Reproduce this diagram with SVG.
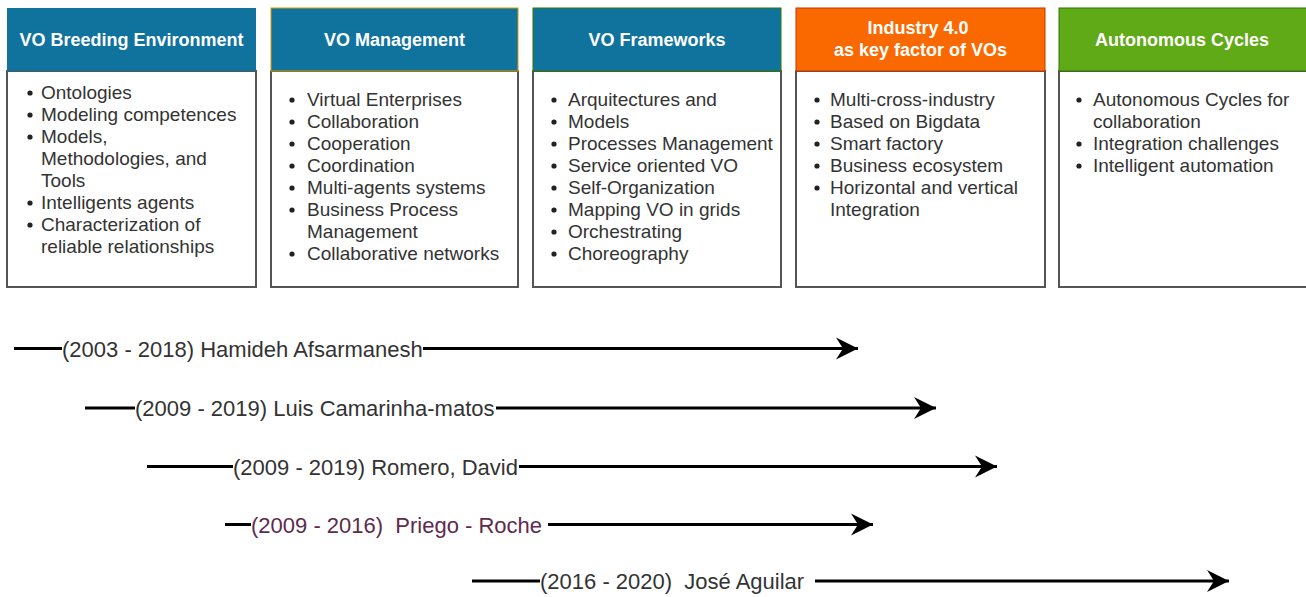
<svg xmlns="http://www.w3.org/2000/svg" width="1306" height="597" viewBox="0 0 1306 597">
  <style>
    .body { fill: #ffffff; stroke: #555555; stroke-width: 2; }
    .hd-blue { fill: #10739e; }
    .hd-orange { fill: #fa6800; stroke: #c73500; stroke-width: 1; }
    .hd-green { fill: #60a917; stroke: #2d7600; stroke-width: 1; }
    .title { font-family: "Liberation Sans", Arial, sans-serif; font-size: 18px; font-weight: bold; fill: #ffffff; text-anchor: middle; }
    .item { font-family: "Liberation Sans", Arial, sans-serif; font-size: 19px; fill: #333333; }
    .dot { fill: #222222; }
    .tl { stroke: #000000; stroke-width: 3; fill: none; }
    .arrow { stroke: #000000; stroke-width: 3; fill: none; marker-end: url(#head); }
    .who { font-family: "Liberation Sans", Arial, sans-serif; font-size: 22px; fill: #333333; }
    .who-alt { fill: #5e2a4e; }
  </style>
  <defs>
    <marker id="head" markerUnits="userSpaceOnUse" markerWidth="22" markerHeight="22" refX="22" refY="11" orient="auto" overflow="visible">
      <path d="M0,0 L22,11 L0,22 L7,11 Z" fill="#000000"/>
    </marker>
  </defs>
  <rect width="1306" height="597" fill="#ffffff"/>

  <!-- Topic boxes -->
  <g id="box-breeding">
    <rect class="body" x="7" y="71" width="249" height="216"/>
    <rect class="hd-blue" x="7" y="8" width="249" height="63"/>
    <text class="title" x="131.5" y="46">VO Breeding Environment</text>
    <g class="dot">
      <circle cx="30" cy="93" r="2.6"/><circle cx="30" cy="115" r="2.6"/><circle cx="30" cy="137" r="2.6"/>
      <circle cx="30" cy="203" r="2.6"/><circle cx="30" cy="225" r="2.6"/>
    </g>
    <text class="item">
      <tspan x="41" y="99">Ontologies</tspan>
      <tspan x="41" y="121">Modeling competences</tspan>
      <tspan x="41" y="143">Models,</tspan>
      <tspan x="41" y="165">Methodologies, and</tspan>
      <tspan x="41" y="187">Tools</tspan>
      <tspan x="41" y="209">Intelligents agents</tspan>
      <tspan x="41" y="231">Characterization of</tspan>
      <tspan x="41" y="253">reliable relationships</tspan>
    </text>
  </g>

  <g id="box-management">
    <rect class="body" x="271" y="71" width="247" height="216"/>
    <rect class="hd-blue" x="271" y="8" width="247" height="63" stroke="#d79b00" stroke-width="1"/>
    <text class="title" x="394.5" y="46">VO Management</text>
    <g class="dot">
      <circle cx="292" cy="100" r="2.6"/><circle cx="292" cy="122" r="2.6"/><circle cx="292" cy="144" r="2.6"/>
      <circle cx="292" cy="166" r="2.6"/><circle cx="292" cy="188" r="2.6"/><circle cx="292" cy="210" r="2.6"/>
      <circle cx="292" cy="254" r="2.6"/>
    </g>
    <text class="item">
      <tspan x="307" y="106">Virtual Enterprises</tspan>
      <tspan x="307" y="128">Collaboration</tspan>
      <tspan x="307" y="150">Cooperation</tspan>
      <tspan x="307" y="172">Coordination</tspan>
      <tspan x="307" y="194">Multi-agents systems</tspan>
      <tspan x="307" y="216">Business Process</tspan>
      <tspan x="307" y="238">Management</tspan>
      <tspan x="307" y="260">Collaborative networks</tspan>
    </text>
  </g>

  <g id="box-frameworks">
    <rect class="body" x="533" y="71" width="248" height="216"/>
    <rect class="hd-blue" x="533" y="8" width="248" height="63" stroke="#2d7600" stroke-width="1"/>
    <text class="title" x="657" y="46">VO Frameworks</text>
    <g class="dot">
      <circle cx="554" cy="100" r="2.6"/><circle cx="554" cy="122" r="2.6"/><circle cx="554" cy="144" r="2.6"/>
      <circle cx="554" cy="166" r="2.6"/><circle cx="554" cy="188" r="2.6"/><circle cx="554" cy="210" r="2.6"/>
      <circle cx="554" cy="232" r="2.6"/><circle cx="554" cy="254" r="2.6"/>
    </g>
    <text class="item">
      <tspan x="568" y="106">Arquitectures and</tspan>
      <tspan x="568" y="128">Models</tspan>
      <tspan x="568" y="150">Processes Management</tspan>
      <tspan x="568" y="172">Service oriented VO</tspan>
      <tspan x="568" y="194">Self-Organization</tspan>
      <tspan x="568" y="216">Mapping VO in grids</tspan>
      <tspan x="568" y="238">Orchestrating</tspan>
      <tspan x="568" y="260">Choreography</tspan>
    </text>
  </g>

  <g id="box-industry">
    <rect class="body" x="796" y="71" width="249" height="216"/>
    <rect class="hd-orange" x="796" y="8" width="249" height="63"/>
    <text class="title">
      <tspan x="920.5" y="34">Industry 4.0</tspan>
      <tspan x="920.5" y="56">as key factor of VOs</tspan>
    </text>
    <g class="dot">
      <circle cx="817" cy="100" r="2.6"/><circle cx="817" cy="122" r="2.6"/><circle cx="817" cy="144" r="2.6"/>
      <circle cx="817" cy="166" r="2.6"/><circle cx="817" cy="188" r="2.6"/>
    </g>
    <text class="item">
      <tspan x="830" y="106">Multi-cross-industry</tspan>
      <tspan x="830" y="128">Based on Bigdata</tspan>
      <tspan x="830" y="150">Smart factory</tspan>
      <tspan x="830" y="172">Business ecosystem</tspan>
      <tspan x="830" y="194">Horizontal and vertical</tspan>
      <tspan x="830" y="216">Integration</tspan>
    </text>
  </g>

  <g id="box-cycles">
    <rect class="body" x="1059" y="71" width="250" height="216"/>
    <rect class="hd-green" x="1059" y="8" width="250" height="63"/>
    <text class="title" x="1182" y="46">Autonomous Cycles</text>
    <g class="dot">
      <circle cx="1079" cy="100" r="2.6"/><circle cx="1079" cy="144" r="2.6"/><circle cx="1079" cy="166" r="2.6"/>
    </g>
    <text class="item">
      <tspan x="1093" y="106">Autonomous Cycles for</tspan>
      <tspan x="1093" y="128">collaboration</tspan>
      <tspan x="1093" y="150">Integration challenges</tspan>
      <tspan x="1093" y="172">Intelligent automation</tspan>
    </text>
  </g>

  <!-- Researcher timelines -->
  <g id="connectors">
    <g id="tl-afsarmanesh">
      <line class="tl" x1="14" y1="348.5" x2="62" y2="348.5"/>
      <line class="arrow" x1="423" y1="348.5" x2="858" y2="348.5"/>
      <text class="who" x="62" y="356.5">(2003 - 2018) Hamideh Afsarmanesh</text>
    </g>
    <g id="tl-camarinha">
      <line class="tl" x1="85" y1="408" x2="135" y2="408"/>
      <line class="arrow" x1="496" y1="408" x2="936" y2="408"/>
      <text class="who" x="135" y="416">(2009 - 2019) Luis Camarinha-matos</text>
    </g>
    <g id="tl-romero">
      <line class="tl" x1="147" y1="466.5" x2="233" y2="466.5"/>
      <line class="arrow" x1="519" y1="466.5" x2="997" y2="466.5"/>
      <text class="who" x="233" y="474.5">(2009 - 2019) Romero, David</text>
    </g>
    <g id="tl-priego">
      <line class="tl" x1="225" y1="524.5" x2="251" y2="524.5"/>
      <line class="arrow" x1="548" y1="524.5" x2="873" y2="524.5"/>
      <text class="who who-alt" x="251" y="532.5" xml:space="preserve">(2009 - 2016)  Priego - Roche</text>
    </g>
    <g id="tl-aguilar">
      <line class="tl" x1="472" y1="581" x2="540" y2="581"/>
      <line class="arrow" x1="815" y1="581" x2="1229" y2="581"/>
      <text class="who" x="540" y="589" xml:space="preserve">(2016 - 2020)  José Aguilar</text>
    </g>
  </g>
</svg>
